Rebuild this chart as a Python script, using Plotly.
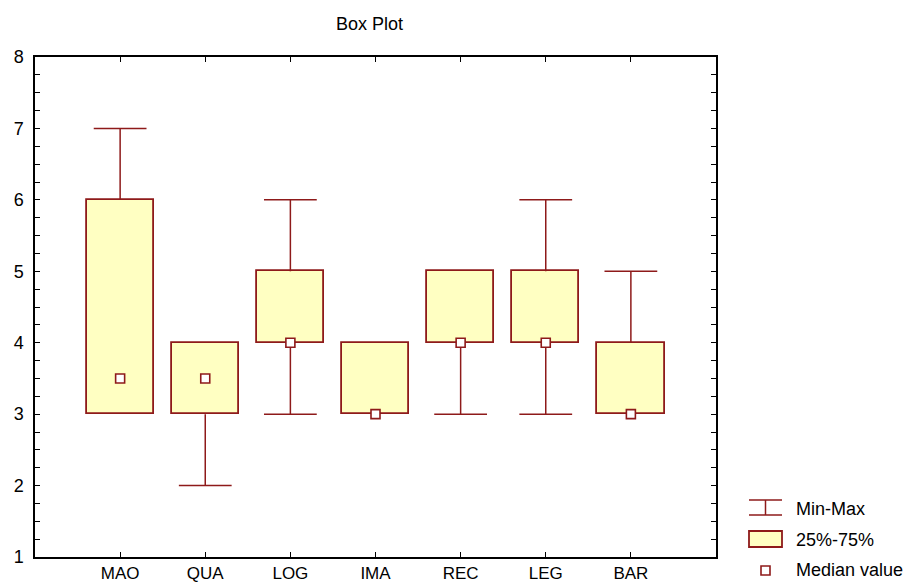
import plotly.graph_objects as go

categories = ["MAO", "QUA", "LOG", "IMA", "REC", "LEG", "BAR"]
mins    = [3, 2, 3, 3, 3, 3, 3]
q1s     = [3, 3, 4, 3, 4, 4, 3]
q3s     = [6, 4, 5, 4, 5, 5, 4]
maxs    = [7, 4, 6, 4, 5, 6, 5]
medians = [3.5, 3.5, 4, 3, 4, 4, 3]

RED = "#8E1A1A"
FILL = "#FFFFC2"
FONT = "Liberation Sans, Arial, sans-serif"
FS = 18
BOX_W = 0.79
CAP_W = 0.62

idx = list(range(len(categories)))

fig = go.Figure()

# boxes (25%-75%)
fig.add_trace(go.Bar(x=idx, y=[b - a for a, b in zip(q1s, q3s)], base=q1s,
                     width=BOX_W,
                     marker=dict(color=FILL, line=dict(color=RED, width=1.8)),
                     showlegend=False))

# whiskers (Min-Max)
wx, wy = [], []
for i, lo, a, b, hi in zip(idx, mins, q1s, q3s, maxs):
    if hi > b:
        wx += [i - CAP_W / 2, i + CAP_W / 2, None, i, i, None]
        wy += [hi, hi, None, hi, b, None]
    if lo < a:
        wx += [i - CAP_W / 2, i + CAP_W / 2, None, i, i, None]
        wy += [lo, lo, None, lo, a, None]
fig.add_trace(go.Scatter(x=wx, y=wy, mode="lines",
                         line=dict(color=RED, width=1.5),
                         hoverinfo="skip", showlegend=False))

# medians
fig.add_trace(go.Scatter(x=idx, y=medians, mode="markers",
                         marker=dict(symbol="square", size=9, color="white",
                                     line=dict(color=RED, width=1.6)),
                         showlegend=False))

L, R, T, B = 35, 191, 57, 27
W, H = 907, 584
PW, PH = W - L - R, H - T - B


def px(x):
    return (x - L) / PW


def py(y):
    return (H - B - y) / PH


shapes = []
# legend: Min-Max icon
shapes.append(dict(type="line", xref="paper", yref="paper", x0=px(749), x1=px(782), y0=py(500), y1=py(500), line=dict(color=RED, width=1.5)))
shapes.append(dict(type="line", xref="paper", yref="paper", x0=px(749), x1=px(782), y0=py(515), y1=py(515), line=dict(color=RED, width=1.5)))
shapes.append(dict(type="line", xref="paper", yref="paper", x0=px(765.5), x1=px(765.5), y0=py(500), y1=py(515), line=dict(color=RED, width=1.5)))
# 25%-75% icon
shapes.append(dict(type="rect", xref="paper", yref="paper", x0=px(749), x1=px(782), y0=py(531), y1=py(547), fillcolor=FILL, line=dict(color=RED, width=1.8)))
# median icon
shapes.append(dict(type="rect", xref="paper", yref="paper", x0=px(761), x1=px(770), y0=py(566), y1=py(575), fillcolor="white", line=dict(color=RED, width=1.6)))

annotations = [
    dict(text="Box Plot", xref="paper", yref="paper", x=px(369), y=py(24), showarrow=False, xanchor="center", yanchor="middle", font=dict(size=FS, family=FONT, color="black")),
    dict(text="Min-Max", xref="paper", yref="paper", x=px(794), y=py(509), showarrow=False, xanchor="left", yanchor="middle", font=dict(size=FS, family=FONT, color="black")),
    dict(text="25%-75%", xref="paper", yref="paper", x=px(794), y=py(540), showarrow=False, xanchor="left", yanchor="middle", font=dict(size=FS, family=FONT, color="black")),
    dict(text="Median value", xref="paper", yref="paper", x=px(794), y=py(570), showarrow=False, xanchor="left", yanchor="middle", font=dict(size=FS, family=FONT, color="black")),
]

fig.update_layout(
    width=W, height=H,
    margin=dict(l=L, r=R, t=T, b=B, pad=0, autoexpand=False),
    paper_bgcolor="white", plot_bgcolor="white",
    font=dict(family=FONT, size=FS, color="black"),
    showlegend=False,
    shapes=shapes,
    annotations=annotations,
    bargap=0,
)
fig.update_xaxes(range=[-1, 7], tickvals=idx, ticktext=categories,
                 automargin=False,
                 showgrid=False, zeroline=False,
                 showline=True, linecolor="black", linewidth=1.5, mirror="ticks",
                 ticks="inside", ticklen=5, tickcolor="black", tickwidth=1,
                 ticklabelstandoff=0,
                 tickfont=dict(size=17, family=FONT, color="black"))
fig.update_yaxes(range=[1, 8], dtick=1, tick0=1,
                 automargin=False,
                 showgrid=False, zeroline=False,
                 showline=True, linecolor="black", linewidth=1.5, mirror="ticks",
                 ticks="inside", ticklen=5, tickcolor="black", tickwidth=1,
                 ticklabelstandoff=6,
                 minor=dict(dtick=0.25, ticks="inside", ticklen=5, tickcolor="black", tickwidth=1, showgrid=False),
                 tickfont=dict(size=FS, family=FONT, color="black"))

fig.write_html("out.html")
